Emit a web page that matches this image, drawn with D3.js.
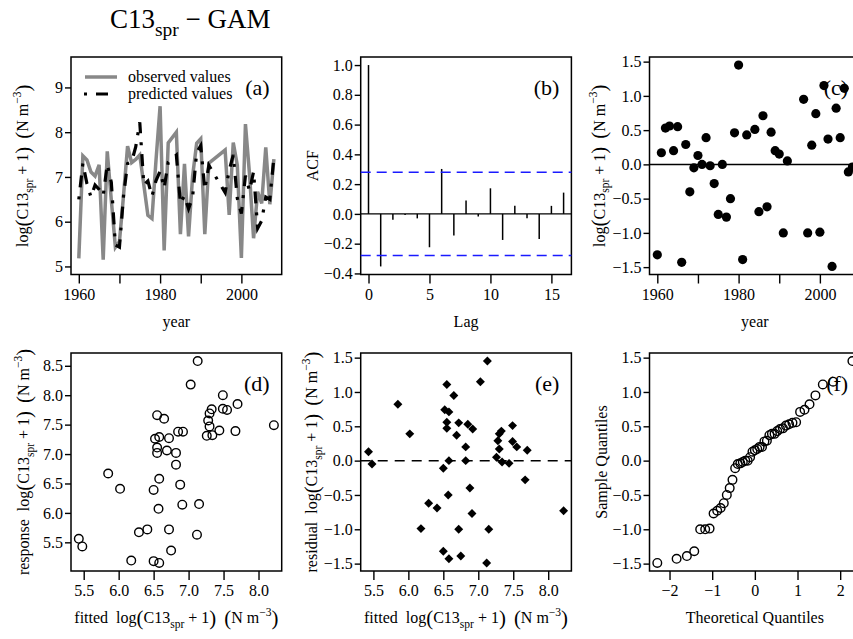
<!DOCTYPE html>
<html>
<head>
<meta charset="utf-8">
<script src="https://cdn.jsdelivr.net/npm/d3@7"></script>
<style>
body { margin: 0; background: #fff; }
svg text { font-family: "Liberation Serif", "Times New Roman", serif; fill: #000; white-space: pre; }
</style>
</head>
<body>
<svg id="chart" width="853" height="639"></svg>
<script>
// years with data (1983, 1993-1995 missing)
var years = [1960, 1961, 1962, 1963, 1964, 1965, 1966, 1967, 1968, 1969,
             1970, 1971, 1972, 1973, 1974, 1975, 1976, 1977, 1978, 1979,
             1980, 1981, 1982, 1984, 1985, 1986, 1987, 1988, 1989, 1990,
             1991, 1992, 1996, 1997, 1998, 1999, 2000, 2001, 2002, 2003,
             2004, 2005, 2006, 2007, 2008];
var observed = [5.18, 7.47, 7.38, 7.11, 7.02, 7.27, 5.15, 7.57, 6.48, 5.43,
                5.56, 6.58, 7.69, 7.32, 7.39, 7.49, 6.82, 6.14, 6.07, 7.38,
                8.58, 5.36, 7.76, 8.00, 5.72, 7.29, 5.67, 7.02, 7.75, 7.85,
                5.72, 7.31, 7.60, 6.15, 7.77, 7.26, 5.19, 8.18, 7.06, 5.63,
                6.67, 6.41, 7.66, 6.39, 7.40];
var fitted = [6.50, 7.30, 6.85, 6.55, 6.82, 6.72, 6.58, 7.28, 6.88, 5.48,
              5.43, 6.58, 7.30, 7.34, 7.67, 8.22, 6.82, 6.91, 6.57, 6.92,
              7.13, 6.75, 7.33, 7.49, 6.41, 6.58, 6.29, 6.55, 7.55, 7.70,
              6.72, 7.26, 6.65, 7.15, 7.49, 6.52, 6.18, 7.03, 6.69, 7.12,
              5.85, 6.02, 6.55, 6.50, 7.44];

var acfLags = [0, 1, 2, 3, 4, 5, 6, 7, 8, 9, 10, 11, 12, 13, 14, 15, 16];
var acfValues = [1.0, -0.353, -0.04, -0.007, -0.03, -0.224, 0.302, -0.145, 0.09,
                 -0.018, 0.172, -0.175, 0.054, -0.03, -0.168, 0.054, 0.143];
var acfCI = 0.28;

var yearTicks = [1960, 1970, 1980, 1990, 2000];
var fittedTicks = [5.5, 6.0, 6.5, 7.0, 7.5, 8.0];
var responseTicks = [5.5, 6.0, 6.5, 7.0, 7.5, 8.0, 8.5];
var residTicks = [-1.5, -1.0, -0.5, 0.0, 0.5, 1.0, 1.5];
var logTicks = [5, 6, 7, 8, 9];
var acfTicks = [-0.4, -0.2, 0.0, 0.2, 0.4, 0.6, 0.8, 1.0];
var lagTicks = [0, 5, 10, 15];
var qTicks = [-2, -1, 0, 1, 2];

var resid = observed.map(function(d, i) { return d - fitted[i]; });

var FONT = "'Liberation Serif', 'Times New Roman', serif";
var svg = d3.select("#chart").attr("font-family", FONT);
svg.append("rect").attr("width", 853).attr("height", 639).attr("fill", "#fff");

var colX = [71, 360.7, 649.5], rowY = [57, 353];
var boxW = 210.7, boxH = 217.5;
var FS = 16;

// R style axis limits (+4%)
function rlim(a, b) {
    var r = b - a;
    return [a - 0.04 * r, b + 0.04 * r];
}

// inverse normal cdf (Acklam)
function qnorm(p) {
    var a = [-3.969683028665376e+01, 2.209460984245205e+02, -2.759285104469687e+02, 1.383577518672690e+02, -3.066479806614716e+01, 2.506628277459239e+00];
    var b = [-5.447609879822406e+01, 1.615858368580409e+02, -1.556989798598866e+02, 6.680131188771972e+01, -1.328068155288572e+01];
    var c = [-7.784894002430293e-03, -3.223964580411365e-01, -2.400758277161838e+00, -2.549732539343734e+00, 4.374664141464968e+00, 2.938163982698783e+00];
    var d = [7.784695709041462e-03, 3.224671290700398e-01, 2.445134137142996e+00, 3.754408661907416e+00];
    var q, r;
    if (p < 0.02425) {
        q = Math.sqrt(-2 * Math.log(p));
        return (((((c[0]*q+c[1])*q+c[2])*q+c[3])*q+c[4])*q+c[5]) / ((((d[0]*q+d[1])*q+d[2])*q+d[3])*q+1);
    }
    if (p > 1 - 0.02425) {
        q = Math.sqrt(-2 * Math.log(1 - p));
        return -(((((c[0]*q+c[1])*q+c[2])*q+c[3])*q+c[4])*q+c[5]) / ((((d[0]*q+d[1])*q+d[2])*q+d[3])*q+1);
    }
    q = p - 0.5; r = q * q;
    return (((((a[0]*r+a[1])*r+a[2])*r+a[3])*r+a[4])*r+a[5])*q / (((((b[0]*r+b[1])*r+b[2])*r+b[3])*r+b[4])*r+1);
}

// text with sub/superscripts
function rich(sel, parts, size) {
    var shift = 0;
    sel.attr("font-family", FONT);
    parts.forEach(function(p) {
        var s = (p.sub || p.sup) ? size * 0.72 : p.big ? size * 1.3 : size;
        var target = p.sub ? size * 0.3 : p.sup ? -size * 0.45 : p.big ? size * 0.12 : 0;
        sel.append("tspan").attr("font-size", s).attr("dy", target - shift).text(p.t);
        shift = target;
    });
    return sel;
}

var logLab = [{t: "log"}, {t: "(", big: 1}, {t: "C13"}, {t: "spr", sub: 1}, {t: " + 1"}, {t: ")", big: 1},
              {t: "  "}, {t: "(", big: 1}, {t: "N m"}, {t: "\u22123", sup: 1}, {t: ")", big: 1}];

function panel(col, row, xd, yd) {
    var x0 = colX[col], y0 = rowY[row];
    var h = row == 0 ? boxH : 218;
    var g = svg.append("g").attr("transform", "translate(" + x0 + "," + y0 + ")");
    var x = d3.scaleLinear().domain(xd).range([0, boxW]);
    var y = d3.scaleLinear().domain(yd).range([h, 0]);
    return {g: g, x: x, y: y, w: boxW, h: h};
}

function axes(p, xt, xf, yt, yf) {
    var ax = p.g.append("g").attr("transform", "translate(0," + p.h + ")")
        .call(d3.axisBottom(p.x).tickValues(xt).tickFormat(xf).tickSize(9).tickSizeOuter(0).tickPadding(5));
    var ay = p.g.append("g")
        .call(d3.axisLeft(p.y).tickValues(yt).tickFormat(yf).tickSize(6).tickSizeOuter(0).tickPadding(2));
    [ax, ay].forEach(function(a) {
        a.attr("font-family", FONT).attr("font-size", FS);
        a.selectAll("text").attr("font-family", FONT).attr("fill", "#000");
        a.select(".domain").remove();
        a.selectAll("line").attr("stroke-width", 1.4);
    });
    p.g.append("rect").attr("width", p.w).attr("height", p.h)
        .attr("fill", "none").attr("stroke", "#000").attr("stroke-width", 1.5);
}

function xlab(p, parts) {
    rich(p.g.append("text").attr("x", p.w / 2).attr("y", p.h + 52).attr("text-anchor", "middle"), parts, FS);
}
function ylab(p, parts, off) {
    rich(p.g.append("text").attr("transform", "translate(" + (-off) + "," + (p.h / 2) + ") rotate(-90)")
        .attr("text-anchor", "middle"), parts, FS);
}
function tag(p, s) {
    p.g.append("text").attr("x", p.w - 12).attr("y", 38).attr("text-anchor", "end")
        .attr("font-family", FONT).attr("font-size", 22).text(s);
}

var yearFmt = function(d) { return d % 20 == 0 ? d : ""; };
var f1 = d3.format(".1f");

// title
rich(svg.append("text").attr("x", 110).attr("y", 28), [{t: "C13"}, {t: "spr", sub: 1}, {t: " \u2212 GAM"}], 27);

// (a) observed vs predicted
var pa = panel(0, 0, rlim(1960, 2008), rlim(5, 9.5));
axes(pa, yearTicks, yearFmt, logTicks, d3.format("d"));
var lineA = function(vals) {
    return d3.line().x(function(d, i) { return pa.x(years[i]); }).y(function(d) { return pa.y(d); })(vals);
};
pa.g.append("path").attr("d", lineA(observed)).attr("fill", "none")
    .attr("stroke", "#888").attr("stroke-width", 3.5);
pa.g.append("path").attr("d", lineA(fitted)).attr("fill", "none")
    .attr("stroke", "#000").attr("stroke-width", 3.2).attr("stroke-dasharray", "3,9,12,9");
// legend
pa.g.append("line").attr("x1", 14).attr("x2", 46).attr("y1", 20).attr("y2", 20)
    .attr("stroke", "#888").attr("stroke-width", 3.5);
pa.g.append("line").attr("x1", 13).attr("x2", 46).attr("y1", 37).attr("y2", 37)
    .attr("stroke", "#000").attr("stroke-width", 3.2).attr("stroke-dasharray", "3,9,12,9");
pa.g.append("text").attr("x", 57).attr("y", 25).attr("font-size", FS).attr("font-family", FONT).text("observed values");
pa.g.append("text").attr("x", 57).attr("y", 42).attr("font-size", FS).attr("font-family", FONT).text("predicted values");
tag(pa, "(a)");
xlab(pa, [{t: "year"}]);
ylab(pa, logLab, 43);

// (b) ACF
var pb = panel(1, 0, rlim(0, 16), rlim(d3.min(acfValues), 1));
axes(pb, lagTicks, d3.format("d"), acfTicks, f1);
pb.g.append("line").attr("x1", 0).attr("x2", pb.w).attr("y1", pb.y(0)).attr("y2", pb.y(0))
    .attr("stroke", "#000").attr("stroke-width", 1.4);
pb.g.selectAll(".bar").data(acfValues).enter().append("line")
    .attr("x1", function(d, i) { return pb.x(acfLags[i]); })
    .attr("x2", function(d, i) { return pb.x(acfLags[i]); })
    .attr("y1", pb.y(0)).attr("y2", function(d) { return pb.y(d); })
    .attr("stroke", "#000").attr("stroke-width", 1.5);
[acfCI, -acfCI].forEach(function(v) {
    pb.g.append("line").attr("x1", 0).attr("x2", pb.w).attr("y1", pb.y(v)).attr("y2", pb.y(v))
        .attr("stroke", "#1a1aff").attr("stroke-width", 1.5).attr("stroke-dasharray", "10,6");
});
tag(pb, "(b)");
xlab(pb, [{t: "Lag"}]);
ylab(pb, [{t: "ACF"}], 43);

// (c) residuals over time
var rr = rlim(d3.min(resid), d3.max(resid));
var pc = panel(2, 0, rlim(1960, 2008), rr);
axes(pc, yearTicks, yearFmt, residTicks, f1);
pc.g.append("line").attr("x1", 0).attr("x2", pc.w).attr("y1", pc.y(0)).attr("y2", pc.y(0))
    .attr("stroke", "#000").attr("stroke-width", 1.5);
tag(pc, "(c)");
pc.g.selectAll(".dot").data(resid).enter().append("circle")
    .attr("cx", function(d, i) { return pc.x(years[i]); })
    .attr("cy", function(d) { return pc.y(d); })
    .attr("r", 4.6).attr("fill", "#000");
xlab(pc, [{t: "year"}]);
ylab(pc, logLab, 45);

// (d) response vs fitted
var fx = rlim(d3.min(fitted), d3.max(fitted));
var pd = panel(0, 1, fx, rlim(d3.min(observed), d3.max(observed)));
axes(pd, fittedTicks, f1, responseTicks, f1);
tag(pd, "(d)");
pd.g.selectAll(".dot").data(observed).enter().append("circle")
    .attr("cx", function(d, i) { return pd.x(fitted[i]); })
    .attr("cy", function(d) { return pd.y(d); })
    .attr("r", 4.3).attr("fill", "none").attr("stroke", "#000").attr("stroke-width", 1.4);
xlab(pd, [{t: "fitted  "}].concat(logLab));
ylab(pd, [{t: "response  "}].concat(logLab), 42);

// (e) residuals vs fitted
var pe = panel(1, 1, fx, rr);
axes(pe, fittedTicks, f1, residTicks, f1);
pe.g.append("line").attr("x1", 0).attr("x2", pe.w).attr("y1", pe.y(0)).attr("y2", pe.y(0))
    .attr("stroke", "#000").attr("stroke-width", 1.5).attr("stroke-dasharray", "10,7");
tag(pe, "(e)");
var diamond = d3.symbol().type(d3.symbolSquare).size(40);
pe.g.selectAll(".dot").data(resid).enter().append("path")
    .attr("d", diamond)
    .attr("transform", function(d, i) { return "translate(" + pe.x(fitted[i]) + "," + pe.y(d) + ") rotate(45)"; })
    .attr("fill", "#000");
xlab(pe, [{t: "fitted  "}].concat(logLab));
ylab(pe, [{t: "residual  "}].concat(logLab), 44);

// (f) normal QQ
var sorted = resid.slice().sort(d3.ascending);
var n = sorted.length;
var theo = sorted.map(function(d, i) { return qnorm((i + 0.5) / n); });
var pf = panel(2, 1, rlim(d3.min(theo), d3.max(theo)), rr);
axes(pf, qTicks, d3.format("d"), residTicks, f1);
tag(pf, "(f)");
pf.g.selectAll(".dot").data(sorted).enter().append("circle")
    .attr("cx", function(d, i) { return pf.x(theo[i]); })
    .attr("cy", function(d) { return pf.y(d); })
    .attr("r", 4.3).attr("fill", "none").attr("stroke", "#000").attr("stroke-width", 1.4);
xlab(pf, [{t: "Theoretical Quantiles"}]);
ylab(pf, [{t: "Sample Quantiles"}], 43);
</script>
</body>
</html>
